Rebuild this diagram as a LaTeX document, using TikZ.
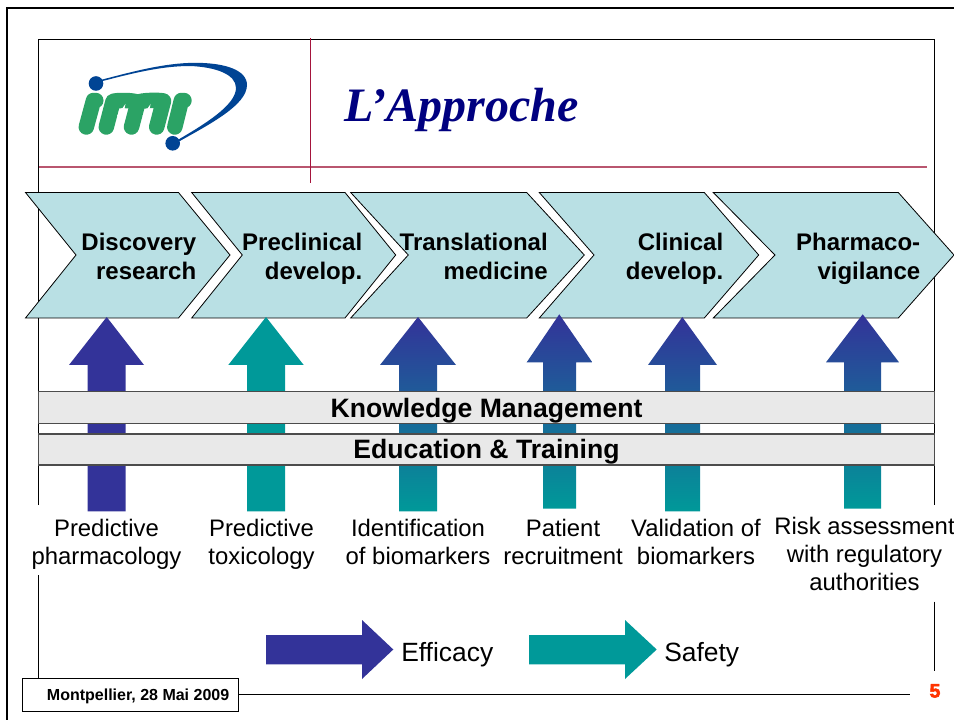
\documentclass[tikz,border=0pt]{standalone}
\usepackage{fontspec}
\setmainfont{Liberation Sans}
\newfontfamily\titlefont{Liberation Serif}
\newfontfamily\pnfont[BoldFeatures={FakeBold=3}]{Liberation Sans}
\definecolor{effblue}{HTML}{333399}
\definecolor{safeteal}{HTML}{009999}
\definecolor{chev}{HTML}{B9E0E4}
\definecolor{barg}{HTML}{E9E9E9}
\definecolor{redline}{HTML}{A5143C}
\definecolor{redlight}{HTML}{B9566F}
\definecolor{logoblue}{HTML}{004494}
\definecolor{logogreen}{HTML}{2BA365}
\definecolor{pagered}{HTML}{FF3300}
\definecolor{titleblue}{HTML}{000080}
\tikzset{
  chevshape/.style={fill=chev,draw=black,line width=0.6pt},
  chevtext/.style={font=\fontsize{18}{21.7}\selectfont\bfseries,align=right,inner sep=0pt,anchor=base east},
  bartext/.style={font=\fontsize{19.95}{24}\selectfont\bfseries,inner sep=0pt,anchor=base},
  labeltext/.style={font=\fontsize{17.9}{21}\selectfont,align=center,inner sep=0pt,anchor=base},
  legendtext/.style={font=\fontsize{19.8}{24}\selectfont,inner sep=0pt,anchor=base west},
  barbox/.style={fill=barg,draw=black!70,line width=1pt},
  frameline/.style={draw=black,line width=0.6pt},
  effarrow/.style={fill=effblue},
  safearrow/.style={fill=safeteal},
  mixarrow/.style={top color=effblue,bottom color=safeteal,draw=none},
  logostem/.style={draw=logogreen,line width=11.6pt,line cap=round,line join=round},
}
\newcommand{\uparrowpath}[8]{% style, tipx, tipy, headL, headR, shaftL, shaftR, bottom (head base = tipy+48)
  \path[#1] (#2,#3) -- (#5,#3+48) -- (#7,#3+48) -- (#7,#8) -- (#6,#8) -- (#6,#3+48) -- (#4,#3+48) -- cycle;
}
\newcommand{\chevronpath}[4]{% left, notch, topright, tip
  \path[chevshape] (#1,192.5) -- (#3,192.5) -- (#4,255) -- (#3,318) -- (#1,318) -- (#2,255) -- cycle;
}
\begin{document}
\begin{tikzpicture}[x=0.75pt,y=-0.75pt]
\useasboundingbox (0,0) rectangle (954,720);
\fill[white] (0,0) rectangle (954,720);
% outer frame
\draw[black,line width=2pt] (7,720) -- (7,8) -- (954,8);
% inner frame
\draw[frameline] (38.2,505) -- (38.2,39.5) -- (934.7,39.5) -- (934.7,505);
\draw[frameline] (38.2,575) -- (38.2,678.3);
\draw[frameline] (934.7,601.7) -- (934.7,670.7);
% red rules
\draw[redlight,line width=0.8pt] (39,167) -- (927,167);
\draw[redline,line width=0.8pt] (310.5,38.5) -- (310.5,183.5);
% logo
\fill[logoblue] (102,79.6) .. controls (135,71) and (165,63) .. (195,62.8)
  .. controls (225,62.8) and (247,70) .. (247,85)
  .. controls (247,105) and (210,124) .. (179,141.5)
  -- (178,139.8) .. controls (205,124) and (236,105) .. (236,88)
  .. controls (236,74) and (215,67) .. (190,66)
  .. controls (160,66) and (130,74) .. (102,81.2) -- cycle;
\fill[logoblue] (96,83.5) circle[radius=7.3];
\fill[logoblue] (172.7,143.3) circle[radius=7.3];
\draw[logostem] (86.3,127) -- (93.5,100.5) -- (95.8,100.5);
\draw[logostem] (106.3,127) -- (113,101.5) .. controls (116,100) and (134,100) .. (138,102.5) -- (131.5,127);
\draw[logostem] (138,102.5) .. controls (141,100) and (160,100) .. (163.5,101) -- (156.7,127);
\draw[logostem] (174.8,127) -- (181.4,100.5) -- (184,100.5);
\fill[white] (117,116) -- (125.4,104) -- (123,116) -- cycle;
\fill[white] (142.5,116) -- (150.6,104) -- (148,116) -- cycle;
% chevrons
\chevronpath{25.5}{76}{178.5}{230}
\chevronpath{191.7}{242.3}{345}{395.7}
\chevronpath{350.7}{408.3}{526.7}{584.3}
\chevronpath{539.3}{594}{704.3}{758.7}
\chevronpath{713.3}{775}{898.3}{954}
\node[chevtext] (c1) at (196.5,279.5) {Discovery\\research};
\node[chevtext] (c2) at (362.5,279.5) {Preclinical\\develop.};
\node[chevtext] (c3) at (548,279.5) {Translational\\medicine};
\node[chevtext] (c4) at (723.5,279.5) {Clinical\\develop.};
\node[chevtext] (c5) at (920.5,279.5) {Pharmaco-\\vigilance};
% up arrows
\uparrowpath{effarrow}{106.7}{317}{69}{144}{87.7}{125.7}{511.3}
\uparrowpath{safearrow}{266}{317}{228.3}{303.7}{247}{285}{511.3}
\uparrowpath{mixarrow}{418}{317}{380}{456}{399}{437}{511.3}
\uparrowpath{mixarrow}{559.3}{314.3}{526.7}{592.3}{543}{576}{508.7}
\uparrowpath{mixarrow}{682.3}{317}{648}{717}{665}{700}{511.3}
\uparrowpath{mixarrow}{862.7}{314.3}{826}{899}{844}{881}{508.7}
% bars
\path[barbox] (38.2,391.7) rectangle (934.7,423.3);
\path[barbox] (38.2,434) rectangle (934.7,465);
\node[bartext] (km) at (486.5,418) {Knowledge Management};
\node[bartext] (et) at (486.5,459) {Education \& Training};
% labels
\node[labeltext] (l1) at (106.5,564) {Predictive\\pharmacology};
\node[labeltext] (l2) at (261.5,564) {Predictive\\toxicology};
\node[labeltext] (l3) at (418,564) {Identification\\of biomarkers};
\node[labeltext] (l4) at (563,564) {Patient\\recruitment};
\node[labeltext] (l5) at (696,564) {Validation of\\biomarkers};
\node[labeltext] (l6) at (864.5,590) {Risk assessment\\with regulatory\\authorities};
% legend
\path[effarrow] (266,635) -- (362,635) -- (362,620) -- (393.3,649.5) -- (362,679) -- (362,664.3) -- (266,664.3) -- cycle;
\path[safearrow] (529,635) -- (625,635) -- (625,620) -- (656.7,649.5) -- (625,679) -- (625,664.3) -- (529,664.3) -- cycle;
\node[legendtext] (eff) at (401,661.5) {Efficacy};
\node[legendtext] (saf) at (664,661.5) {Safety};
% footer
\node[draw=black,fill=white,line width=0.7pt,minimum width=162.3pt,minimum height=24.5pt,inner sep=0pt] (foot) at (130.5,694.7) {};
\node[font=\fontsize{12}{14}\selectfont\bfseries,inner sep=0pt,anchor=base east] (footlabel) at (229.5,700.5) {Montpellier, 28 Mai 2009};
\coordinate (footend) at (910,694.7);
\draw[black,line width=0.7pt] (foot.east) -- (footend);
\node[font=\fontsize{14.6}{16}\pnfont\bfseries\selectfont,text=pagered,inner sep=0pt,anchor=base] (pagenum) at (935,697.5) {5};
% title
\node[font=\fontsize{36}{40}\titlefont\bfseries\itshape\selectfont,text=titleblue,inner sep=0pt,anchor=base west] (title) at (344,121.7) {L’Approche};
\end{tikzpicture}
\end{document}
